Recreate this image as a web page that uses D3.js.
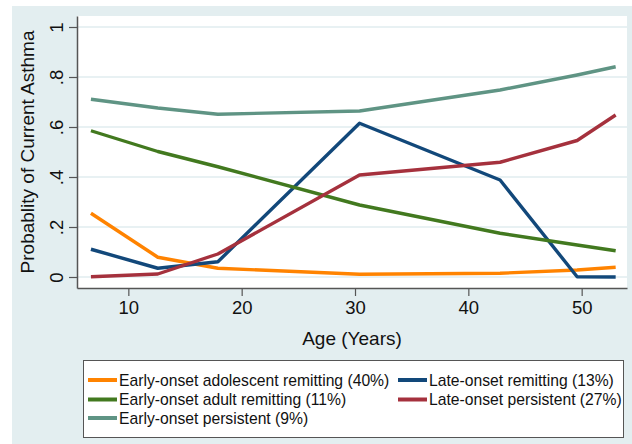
<!DOCTYPE html>
<html>
<head>
<meta charset="utf-8">
<script src="https://cdn.jsdelivr.net/npm/d3@7"></script>
<style>
  html, body { margin: 0; padding: 0; background: #fff; }
  svg { display: block; font-family: "Liberation Sans", Arial, sans-serif; }
</style>
</head>
<body>
<div id="chart"></div>
<script>
const W = 632, H = 444;

// ages where each trajectory was estimated
const ages = [6.7, 12.6, 17.9, 30.4, 42.8, 49.6, 53.0];

const adolRemitting  = [0.255, 0.079, 0.035, 0.011, 0.015, 0.028, 0.039];
const lateRemitting  = [0.111, 0.035, 0.061, 0.615, 0.388, 0.001, 0.000];
const adultRemitting = [0.585, 0.502, 0.441, 0.288, 0.175, 0.128, 0.105];
const latePersistent = [0.001, 0.012, 0.092, 0.408, 0.459, 0.546, 0.648];
const earlyPersistent = [0.711, 0.676, 0.651, 0.664, 0.748, 0.808, 0.841];

const seriesNames = [
  'Early-onset adolescent remitting (40%)',
  'Late-onset remitting (13%)',
  'Early-onset adult remitting (11%)',
  'Late-onset persistent (27%)',
  'Early-onset persistent (9%)'
];
const seriesValues = [adolRemitting, lateRemitting, adultRemitting, latePersistent, earlyPersistent];
const seriesColors = ['#ff8300', '#12487a', '#42791f', '#a5313d', '#5f9484'];

const xTicks = [10, 20, 30, 40, 50];
const yTicks = [0, 0.2, 0.4, 0.6, 0.8, 1];
const yTickLabels = ['0', '.2', '.4', '.6', '.8', '1'];

const plot = { left: 77, right: 627, top: 16, bottom: 288 };

const svg = d3.select('#chart').append('svg')
  .attr('width', W)
  .attr('height', H);

// graph region background
svg.append('rect')
  .attr('x', 12).attr('y', 6)
  .attr('width', W - 12).attr('height', H - 6)
  .attr('fill', '#e3eef0');

svg.append('rect')
  .attr('x', plot.left).attr('y', plot.top)
  .attr('width', plot.right - plot.left).attr('height', plot.bottom - plot.top)
  .attr('fill', '#fff');

const x = d3.scaleLinear().domain([5.47, 54.0]).range([plot.left, plot.right]);
const y = d3.scaleLinear().domain([-0.044, 1.044]).range([plot.bottom, plot.top]);

// gridlines
svg.append('g')
  .selectAll('line')
  .data(yTicks)
  .enter().append('line')
  .attr('x1', plot.left).attr('x2', plot.right)
  .attr('y1', (d) => y(d)).attr('y2', (d) => y(d))
  .attr('stroke', '#e1ecef')
  .attr('stroke-width', 1.5);

// lines
const line = d3.line()
  .x((d, i) => x(ages[i]))
  .y((d) => y(d));

svg.append('g')
  .selectAll('path')
  .data(seriesValues)
  .enter().append('path')
  .attr('d', (d) => line(d))
  .attr('fill', 'none')
  .attr('stroke', (d, i) => seriesColors[i])
  .attr('stroke-width', 3.4)
  .attr('stroke-linejoin', 'round');

// axes
const xAxis = d3.axisBottom(x).tickValues(xTicks).tickSize(8).tickPadding(5).tickSizeOuter(0);
const gx = svg.append('g')
  .attr('transform', `translate(0,${plot.bottom})`)
  .call(xAxis);
gx.select('.domain').attr('stroke', '#555').attr('stroke-width', 1.5);
gx.selectAll('.tick line').attr('stroke', '#555').attr('stroke-width', 1.2);
gx.selectAll('.tick text')
  .attr('font-size', 18.5)
  .attr('fill', '#111')
  .attr('font-family', '"Liberation Sans", Arial, sans-serif');

const yAxis = d3.axisLeft(y).tickValues(yTicks).tickSize(8).tickSizeOuter(0)
  .tickFormat((d, i) => yTickLabels[i]);
const gy = svg.append('g')
  .attr('transform', `translate(${plot.left},0)`)
  .call(yAxis);
gy.select('.domain').attr('stroke', '#555').attr('stroke-width', 1.5);
gy.selectAll('.tick line').attr('stroke', '#555').attr('stroke-width', 1.2);
gy.selectAll('.tick text')
  .attr('font-size', 18.5)
  .attr('fill', '#111')
  .attr('font-family', '"Liberation Sans", Arial, sans-serif')
  .attr('x', null).attr('dy', null)
  .attr('text-anchor', 'middle')
  .attr('transform', 'translate(-14,0) rotate(-90)');

// axis titles
svg.append('text')
  .attr('x', (plot.left + plot.right) / 2)
  .attr('y', 345)
  .attr('text-anchor', 'middle')
  .attr('font-size', 19)
  .attr('fill', '#111')
  .text('Age (Years)');

svg.append('text')
  .attr('transform', `translate(34,${(plot.top + plot.bottom) / 2}) rotate(-90)`)
  .attr('text-anchor', 'middle')
  .attr('font-size', 19)
  .attr('fill', '#111')
  .text('Probablity of Current Asthma');

// legend
const legend = svg.append('g');
legend.append('rect')
  .attr('x', 83.5).attr('y', 360.5)
  .attr('width', 540).attr('height', 77)
  .attr('fill', '#fff')
  .attr('stroke', '#555')
  .attr('stroke-width', 1);

const colX = [88, 398];
const rowY = [380, 399.5, 418];
const items = legend.selectAll('g.item')
  .data(seriesNames)
  .enter().append('g')
  .attr('class', 'item')
  .attr('transform', (d, i) => `translate(${colX[i % 2]},${rowY[Math.floor(i / 2)]})`);

items.append('line')
  .attr('x1', 0).attr('x2', 29)
  .attr('y1', 0).attr('y2', 0)
  .attr('stroke', (d, i) => seriesColors[i])
  .attr('stroke-width', 4);

items.append('text')
  .attr('x', 31)
  .attr('dy', '0.36em')
  .attr('font-size', 15.7)
  .attr('fill', '#111')
  .text((d) => d);
</script>
</body>
</html>
